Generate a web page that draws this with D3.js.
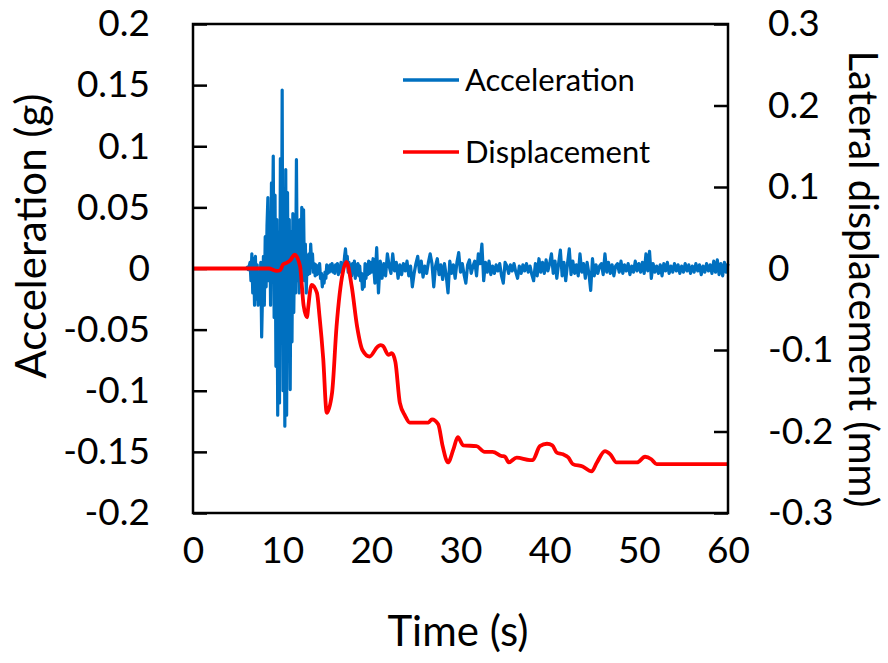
<!DOCTYPE html>
<html>
<head>
<meta charset="utf-8">
<script src="https://cdn.jsdelivr.net/npm/d3@7"></script>
<style>
  html, body { margin: 0; padding: 0; background: #fff; }
  svg { display: block; }
</style>
</head>
<body>
<svg id="chart" width="888" height="663"></svg>
<script>
// ---- Data -------------------------------------------------------------
// Ground acceleration (g), recorded in three sampling segments.
const accelQuietStart = 0, accelQuietStep = 0.5;
const accelQuiet = [0, 0, 0, 0, 0, 0, 0, 0, 0, 0, 0, 0];

const accelStrongStart = 6.0, accelStrongStep = 0.1;
const accelStrong = [
  0, 0.001, -0.001, 0.002, 0.005, -0.01, 0.012, -0.02, 0.008, -0.03,
  0.01, -0.025, 0.003, -0.03, -0.01, -0.028, 0.005, -0.056, -0.02, 0.01,
  -0.03, 0.026, -0.015, 0.035, 0.058, -0.01, 0.045, -0.03, 0.07, 0.02,
  0.092, -0.04, 0.06, -0.08, 0.04, -0.12, 0.03, -0.11, 0.09, -0.06,
  0.146, -0.1, 0.06, -0.129, 0.081, -0.12, 0.062, -0.07, 0.04, -0.099,
  0.03, -0.06, 0.045, -0.036, 0.02, -0.02, 0.089, -0.01, 0.03, -0.02,
  0.04, -0.015, 0.05, 0.01, 0.048, -0.01, 0.02, -0.02, 0.01, -0.005,
  0.012, -0.004, 0.02, 0.005, 0.012, -0.003, 0.004, -0.006, 0.003, -0.005,
  0.002, -0.004, 0.004, -0.008, -0.004, -0.015, -0.006, -0.012, -0.003, -0.008,
  0.003, -0.004, 0.002, -0.003, 0.003, -0.002, 0.004, -0.003, 0.002, -0.004,
  0.003, -0.002, 0.004, -0.005, 0.002, -0.003, 0.005, -0.002, 0.004, 0.002,
  0.01, 0.016, 0.006, 0.01, -0.003, 0.005, -0.004, 0.003, -0.006, 0.004,
  -0.003, 0.006, -0.008, 0.003, -0.005, 0.004, -0.006, 0.002, -0.01, -0.004,
  -0.017, -0.006, -0.015, 0.004, -0.008, 0.003, -0.005, 0.006, -0.004, 0.005,
  -0.003
];

const accelTailStart = 20.2, accelTailStep = 0.2;
const accelTail = [
  0.008, -0.012, 0.017, -0.02, 0.006, -0.008, 0.004, -0.006, 0.012, 0.002,
  -0.004, 0.012, -0.002, 0.005, -0.008, 0.003, -0.005, 0.004, -0.002, 0.006,
  -0.006, 0.002, -0.015, -0.004, 0.004, 0.01, -0.003, 0.006, -0.007, 0.002,
  -0.004, 0.005, 0.012, 0.004, -0.015, 0.002, 0.008, -0.005, 0.003, -0.009,
  0.004, -0.006, -0.02, 0.006, -0.004, 0.003, -0.008, 0.005, 0.013, -0.003,
  0.004, -0.005, -0.012, 0.003, 0.007, -0.004, 0.002, 0.006, -0.006, 0.012,
  0.004, 0.02, -0.01, 0.005, -0.003, 0.006, -0.005, 0.002, -0.004, 0.003,
  -0.002, 0.004, -0.006, -0.012, 0.005, 0.002, -0.004, 0.003, -0.002, 0.004,
  -0.003, -0.008, 0.002, -0.004, 0.003, -0.002, 0.004, -0.003, 0.002, -0.005,
  -0.01, 0.004, -0.006, 0.008, -0.003, 0.005, -0.004, 0.007, -0.002, 0.004,
  0.012, -0.004, 0.006, -0.008, 0.004, 0.015, -0.006, 0.005, -0.01, 0.004,
  0.016, -0.005, 0.006, -0.004, 0.003, -0.006, 0.012, -0.003, 0.004, -0.008,
  0.005, -0.004, -0.018, 0.008, -0.006, 0.003, -0.004, 0.002, 0.004, -0.005,
  0.012, -0.003, 0.005, -0.004, 0.003, -0.006, 0.002, 0.004, -0.003, 0.006,
  -0.004, 0.003, -0.002, 0.004, -0.005, 0.002, -0.003, 0.006, -0.002, 0.004,
  -0.003, 0.005, -0.004, 0.012, -0.002, 0.014, -0.008, 0.004, -0.003, 0.002,
  -0.004, 0.003, -0.006, 0.004, -0.002, 0.005, -0.004, 0.002, -0.003, 0.004,
  -0.002, 0.003, -0.004, 0.002, -0.003, 0.004, -0.002, 0.003, -0.004, 0.002,
  -0.003, 0.004, -0.002, 0.003, -0.005, 0.002, -0.003, 0.004, -0.002, 0.003,
  -0.004, 0.006, -0.003, 0.007, -0.005, 0.004, -0.006, 0.005, -0.003, 0.004
];

// Lateral displacement (mm) at the measured times (s).
const dispTime = [
  0, 8.5, 9.4, 9.8, 10.1, 10.5, 10.9, 11.4, 12.0, 12.4,
  12.8, 12.9, 13.3, 13.9, 14.2, 14.6, 15.0, 15.6, 16.1, 16.8,
  17.2, 17.8, 18.4, 19.0, 19.8, 20.7, 21.0, 21.3, 21.9, 22.3,
  22.7, 23.2, 23.8, 24.3, 25.1, 26.4, 26.8, 27.5, 28.0, 28.6,
  29.2, 29.7, 30.3, 31.8, 32.7, 33.6, 34.6, 35.0, 35.4, 36.3,
  37.8, 38.1, 38.9, 39.7, 40.3, 40.8, 41.5, 42.1, 42.6, 43.7,
  44.7, 45.3, 46.2, 46.8, 47.5, 49.8, 50.7, 51.4, 52.0, 53.5,
  60
];
const dispMM = [
  0, 0, -0.003, -0.002, 0.005, 0.007, 0.01, 0.017, 0.003, -0.045,
  -0.06, -0.05, -0.02, -0.03, -0.06, -0.11, -0.177, -0.152, -0.071, -0.005,
  0.008, -0.022, -0.071, -0.1, -0.108, -0.096, -0.094, -0.095, -0.106, -0.104,
  -0.115, -0.165, -0.181, -0.189, -0.189, -0.189, -0.185, -0.191, -0.218, -0.238,
  -0.222, -0.207, -0.217, -0.218, -0.225, -0.225, -0.23, -0.231, -0.238, -0.232,
  -0.235, -0.235, -0.218, -0.215, -0.217, -0.226, -0.228, -0.232, -0.24, -0.243,
  -0.249, -0.238, -0.224, -0.228, -0.238, -0.238, -0.231, -0.234, -0.24, -0.24,
  -0.24
];

// Axis ticks and labels
const timeTicks = [0, 10, 20, 30, 40, 50, 60];
const accelTicks = [0.2, 0.15, 0.1, 0.05, 0, -0.05, -0.1, -0.15, -0.2];
const accelTickLabels = ["0.2", "0.15", "0.1", "0.05", "0", "-0.05", "-0.1", "-0.15", "-0.2"];
const dispTicks = [0.3, 0.2, 0.1, 0, -0.1, -0.2, -0.3];
const dispTickLabels = ["0.3", "0.2", "0.1", "0", "-0.1", "-0.2", "-0.3"];
const seriesNames = ["Acceleration", "Displacement"];
const seriesColors = ["#0070C0", "#FF0000"];

// ---- Build series ------------------------------------------------------
function segment(start, step, values) {
  return values.map((v, i) => ({ t: +(start + i * step).toFixed(3), v }));
}
const accelSeries = [
  ...segment(accelQuietStart, accelQuietStep, accelQuiet),
  ...segment(accelStrongStart, accelStrongStep, accelStrong),
  ...segment(accelTailStart, accelTailStep, accelTail)
];
const dispSeries = dispTime.map((t, i) => ({ t, v: dispMM[i] }));

// ---- Layout ------------------------------------------------------------
const FONT = "Lato, 'Open Sans', sans-serif";
const plot = { left: 193, right: 728, top: 24, bottom: 513 };

const svg = d3.select("#chart");

const x = d3.scaleLinear().domain([0, 60]).range([plot.left, plot.right]);
const yAcc = d3.scaleLinear().domain([-0.2, 0.2]).range([plot.bottom, plot.top]);
const yDisp = d3.scaleLinear().domain([-0.3, 0.3]).range([plot.bottom, plot.top]);

// Left axis (acceleration)
const leftAxis = svg.append("g")
  .attr("transform", `translate(${plot.left},0)`)
  .call(d3.axisLeft(yAcc)
    .tickValues(accelTicks)
    .tickSize(-14)
    .tickPadding(43)
    .tickFormat((d, i) => accelTickLabels[i]));

// Right axis (displacement)
const rightAxis = svg.append("g")
  .attr("transform", `translate(${plot.right},0)`)
  .call(d3.axisRight(yDisp)
    .tickValues(dispTicks)
    .tickSize(-14)
    .tickPadding(40)
    .tickFormat((d, i) => dispTickLabels[i]));

// Bottom axis (time), labels only
const bottomAxis = svg.append("g")
  .attr("transform", `translate(0,${plot.bottom})`)
  .call(d3.axisBottom(x)
    .tickValues(timeTicks)
    .tickSize(0)
    .tickPadding(24)
    .tickFormat(d3.format("d")));

[leftAxis, rightAxis, bottomAxis].forEach(g => {
  g.select(".domain").remove();
  g.attr("font-family", FONT).attr("font-size", 37);
  g.selectAll(".tick line").attr("stroke", "#000").attr("stroke-width", 2.5);
  g.selectAll(".tick text").attr("fill", "#000");
});

// Series lines
const accelLine = d3.line()
  .x(d => x(d.t))
  .y(d => yAcc(d.v));

const dispLine = d3.line()
  .x(d => x(d.t))
  .y(d => yDisp(d.v))
  .curve(d3.curveMonotoneX);

svg.append("path")
  .datum(accelSeries)
  .attr("fill", "none")
  .attr("stroke", seriesColors[0])
  .attr("stroke-width", 3.2)
  .attr("stroke-linejoin", "round")
  .attr("d", accelLine);

svg.append("path")
  .datum(dispSeries)
  .attr("fill", "none")
  .attr("stroke", seriesColors[1])
  .attr("stroke-width", 3.8)
  .attr("stroke-linejoin", "round")
  .attr("d", dispLine);

// Plot frame
svg.append("rect")
  .attr("x", plot.left)
  .attr("y", plot.top)
  .attr("width", plot.right - plot.left)
  .attr("height", plot.bottom - plot.top)
  .attr("fill", "none")
  .attr("stroke", "#000")
  .attr("stroke-width", 2.5);

// Legend
const legend = svg.append("g").attr("font-family", FONT).attr("font-size", 31);
const legendRows = [80, 152];
seriesNames.forEach((name, i) => {
  legend.append("line")
    .attr("x1", 403).attr("x2", 459)
    .attr("y1", legendRows[i]).attr("y2", legendRows[i])
    .attr("stroke", seriesColors[i])
    .attr("stroke-width", 3.5);
  legend.append("text")
    .attr("x", 465)
    .attr("y", legendRows[i])
    .attr("dy", "0.36em")
    .attr("fill", "#000")
    .text(name);
});

// Axis titles
svg.append("text")
  .attr("x", 458)
  .attr("y", 646)
  .attr("text-anchor", "middle")
  .attr("font-family", FONT)
  .attr("font-size", 42)
  .attr("fill", "#000")
  .text("Time (s)");

svg.append("text")
  .attr("transform", "translate(46,236) rotate(-90)")
  .attr("text-anchor", "middle")
  .attr("font-family", FONT)
  .attr("font-size", 42)
  .attr("fill", "#000")
  .text("Acceleration (g)");

svg.append("text")
  .attr("transform", "translate(849,279) rotate(90)")
  .attr("text-anchor", "middle")
  .attr("font-family", FONT)
  .attr("font-size", 40)
  .attr("fill", "#000")
  .text("Lateral displacement (mm)");
</script>
</body>
</html>
